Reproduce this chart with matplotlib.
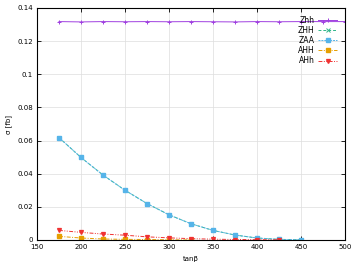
import matplotlib
matplotlib.use("Agg")
import matplotlib.pyplot as plt

tanb = [175, 200, 225, 250, 275, 300, 325, 350, 375, 400, 425, 450, 475, 500]
Zhh = [0.1318, 0.1316, 0.1318, 0.1317, 0.1318, 0.1317, 0.1318, 0.1317, 0.1316, 0.1318, 0.1317, 0.1318, 0.1318, 0.1318]
tanb_H = [175, 200, 225, 250, 275, 300, 325, 350, 375, 400, 425, 450]
ZHH = [0.0618, 0.0498, 0.0392, 0.0300, 0.0220, 0.0152, 0.0098, 0.0058, 0.0030, 0.0012, 0.0004, 0.0001]
ZAA = [0.0618, 0.0498, 0.0392, 0.0300, 0.0220, 0.0152, 0.0098, 0.0058, 0.0030, 0.0012, 0.0004, 0.0001]
tanb_AHH = [175, 200, 225, 250, 275, 300, 325]
AHH = [0.0022, 0.0012, 0.0006, 0.0004, 0.0003, 0.0001, 0.00005]
tanb_AHh = [175, 200, 225, 250, 275, 300, 325, 350, 375, 400, 425]
AHh = [0.0058, 0.0046, 0.0036, 0.0029, 0.0019, 0.0013, 0.0008, 0.0005, 0.0003, 0.0002, 0.0001]

xticks = [150, 200, 250, 300, 350, 400, 450, 500]
yticks = [0, 0.02, 0.04, 0.06, 0.08, 0.1, 0.12, 0.14]
yticklabels = ["0", "0.02", "0.04", "0.06", "0.08", "0.1", "0.12", "0.14"]

fig = plt.figure(figsize=(3.56, 2.67), dpi=100)
ax = fig.add_axes([37/356, 27/267, 308/356, 232/267])

ax.plot(tanb, Zhh, color="#a040e0", marker="+", ms=3.5, mew=0.7, lw=0.7, label="Zhh")
ax.plot(tanb_H, ZHH, color="#2fb58a", marker="x", ms=2.5, mew=0.7, lw=0.7, ls=(0, (3, 2)), label="ZHH")
ax.plot(tanb_H, ZAA, color="#56b4e9", marker="s", ms=2.5, lw=0.7, ls=(0, (2, 1)), label="ZAA")
ax.plot(tanb_AHH, AHH, color="#e69f00", marker="s", ms=2.8, lw=0.7, ls=(0, (4, 1.5, 1, 1.5)), label="AHH")
ax.plot(tanb_AHh, AHh, color="#f03232", marker="v", ms=2.8, lw=0.7, ls=(0, (4, 1.5, 1, 1.5, 1, 1.5)), label="AHh")

ax.set_xlim(150, 500)
ax.set_ylim(0, 0.14)
ax.set_xticks(xticks)
ax.set_yticks(yticks)
ax.set_yticklabels(yticklabels)
ax.tick_params(direction="in", labelsize=5, length=3, top=True, right=True, width=0.6, pad=3)
ax.grid(True, color="#dddddd", lw=0.5)
for s in ax.spines.values():
    s.set_linewidth(0.8)
ax.set_xlabel("tanβ", fontsize=5)
ax.set_ylabel("σ [fb]", fontsize=5)

ax.legend(loc="upper right", fontsize=5.5, markerfirst=False, frameon=False,
          handlelength=2.5, labelspacing=0.15, borderaxespad=0.6, handletextpad=0.5)

fig.savefig("out.png", dpi=100)
